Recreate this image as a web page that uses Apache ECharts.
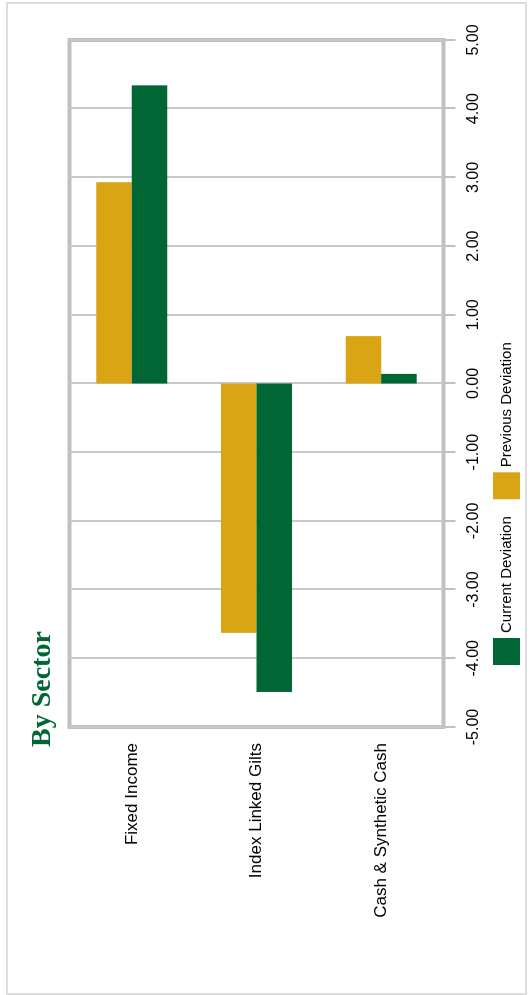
<!DOCTYPE html>
<html>
<head>
<meta charset="utf-8">
<script src="https://cdn.jsdelivr.net/npm/echarts@6/dist/echarts.min.js"></script>
<style>
  html, body { margin: 0; padding: 0; background: #fff; }
  body { width: 531px; height: 995px; position: relative; overflow: hidden; }
  #frame {
    position: absolute; left: 6px; top: 2px; width: 517px; height: 989px;
    border: 2px solid #dcdcdc;
  }
  /* The chart is laid out landscape and turned a quarter turn for the portrait page */
  #chart {
    position: absolute; left: 0; top: 0; width: 995px; height: 531px;
    transform-origin: 0 0;
    transform: translateY(995px) rotate(-90deg);
  }
</style>
</head>
<body>
<div id="frame"></div>
<div id="chart"></div>
<script>
// Sector deviations
const categories = ['Fixed Income', 'Index Linked Gilts', 'Cash & Synthetic Cash'];
const previousDeviation = [2.93, -3.63, 0.69];
const currentDeviation = [4.34, -4.49, 0.14];
const seriesNames = ['Previous Deviation', 'Current Deviation'];
const legendOrder = ['Current Deviation', 'Previous Deviation'];

const GOLD = '#DAA515';
const GREEN = '#006633';
const GRID_GREY = '#c0c0c0';

const chart = echarts.init(document.getElementById('chart'), null, { renderer: 'canvas' });

chart.setOption({
  animation: false,
  backgroundColor: 'transparent',
  title: {
    text: 'By Sector',
    left: 248,
    top: 29,
    padding: 0,
    textStyle: {
      fontFamily: 'Liberation Serif',
      fontWeight: 'bold',
      fontSize: 28,
      color: GREEN
    }
  },
  legend: {
    data: legendOrder,
    left: 330,
    top: 493,
    padding: 0,
    icon: 'rect',
    itemWidth: 27,
    itemHeight: 27,
    itemGap: 17,
    textStyle: { fontFamily: 'Liberation Sans', fontSize: 15, color: '#000' }
  },
  grid: {
    left: 268,
    right: 40,
    top: 69.5,
    bottom: 87.5,
    show: true,
    borderColor: GRID_GREY,
    borderWidth: 4,
    containLabel: false
  },
  xAxis: {
    type: 'value',
    min: -5,
    max: 5,
    interval: 1,
    position: 'bottom',
    axisLine: { show: false },
    axisTick: { show: true, length: 12, lineStyle: { color: GRID_GREY, width: 2 } },
    axisLabel: {
      formatter: v => v.toFixed(2),
      fontFamily: 'Liberation Sans',
      fontSize: 16,
      color: '#000',
      margin: 22
    },
    splitLine: { show: true, lineStyle: { color: '#c8c8c8', width: 2 } }
  },
  yAxis: {
    type: 'category',
    data: categories,
    inverse: true,
    axisLine: { show: false },
    axisTick: { show: false },
    splitLine: { show: false },
    axisLabel: {
      fontFamily: 'Liberation Sans',
      fontSize: 17,
      color: '#000',
      margin: 16
    }
  },
  series: [
    {
      name: seriesNames[0],
      type: 'bar',
      data: previousDeviation,
      itemStyle: { color: GOLD },
      barGap: '0%',
      barCategoryGap: '43%'
    },
    {
      name: seriesNames[1],
      type: 'bar',
      data: currentDeviation,
      itemStyle: { color: GREEN },
      barGap: '0%',
      barCategoryGap: '43%'
    }
  ]
});
</script>
</body>
</html>
